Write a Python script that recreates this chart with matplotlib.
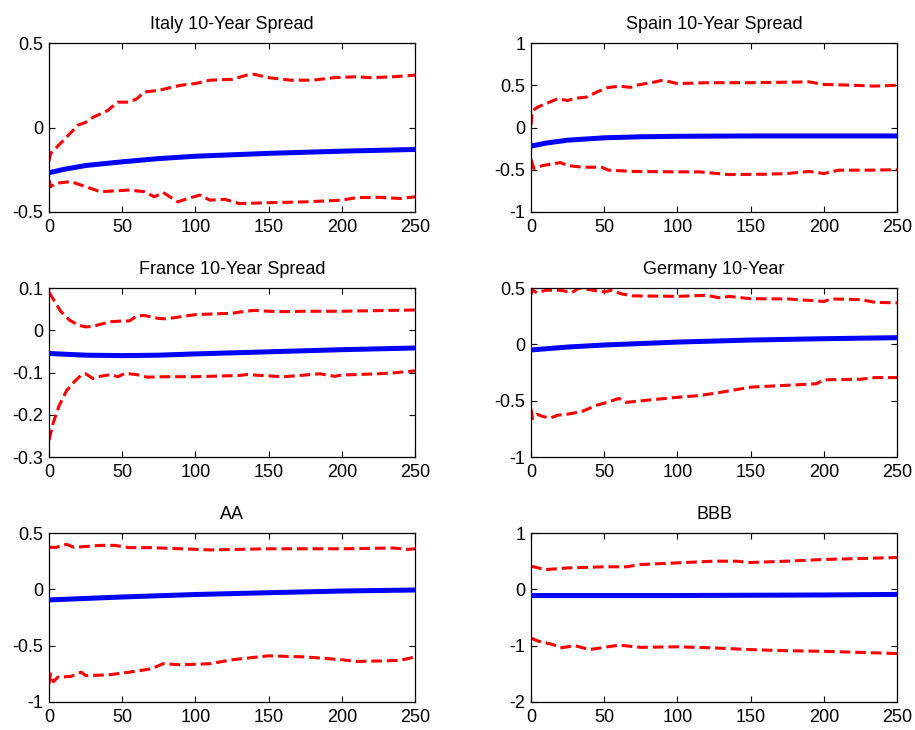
import matplotlib
matplotlib.use("Agg")
import matplotlib.pyplot as plt
import numpy as np

plt.rcParams['font.family'] = ['Liberation Sans', 'DejaVu Sans']

titles = ["Italy 10-Year Spread", "Spain 10-Year Spread", "France 10-Year Spread",
          "Germany 10-Year", "AA", "BBB"]
ylims = [(-0.5, 0.5), (-1, 1), (-0.3, 0.1), (-1, 0.5), (-1, 0.5), (-2, 1)]
yticks = [[-0.5, 0, 0.5], [-1, -0.5, 0, 0.5, 1], [-0.3, -0.2, -0.1, 0, 0.1],
          [-1, -0.5, 0, 0.5], [-1, -0.5, 0, 0.5], [-2, -1, 0, 1]]
ytick_labels = [["-0.5", "0", "0.5"], ["-1", "-0.5", "0", "0.5", "1"],
                ["-0.3", "-0.2", "-0.1", "0", "0.1"], ["-1", "-0.5", "0", "0.5"],
                ["-1", "-0.5", "0", "0.5"], ["-2", "-1", "0", "1"]]
xticks = [0, 50, 100, 150, 200, 250]

# ---- Italy ----
italy_irf_x = [0, 10, 25, 50, 75, 100, 150, 200, 250]
italy_irf_y = [-0.268, -0.248, -0.225, -0.203, -0.184, -0.170, -0.153, -0.140, -0.130]
italy_up_x = [0, 1, 10, 20, 25, 30, 40, 47, 55, 60, 65, 75, 90, 100, 110, 125, 135, 140,
              150, 165, 180, 195, 210, 220, 235, 250]
italy_up_y = [-0.20, -0.154, -0.075, 0.015, 0.03, 0.06, 0.10, 0.15, 0.15, 0.17, 0.21, 0.22,
              0.25, 0.26, 0.28, 0.285, 0.31, 0.315, 0.295, 0.28, 0.28, 0.295, 0.30, 0.295,
              0.30, 0.31]
italy_lo_x = [0, 1, 5, 15, 25, 35, 45, 55, 65, 72, 78, 88, 95, 103, 110, 120, 130, 150,
              175, 200, 210, 225, 240, 250]
italy_lo_y = [-0.31, -0.35, -0.33, -0.32, -0.35, -0.38, -0.375, -0.37, -0.38, -0.41,
              -0.385, -0.44, -0.42, -0.40, -0.43, -0.425, -0.45, -0.445, -0.44, -0.43,
              -0.415, -0.413, -0.42, -0.41]

# ---- Spain ----
spain_irf_x = [0, 10, 25, 50, 75, 100, 150, 200, 250]
spain_irf_y = [-0.22, -0.185, -0.15, -0.122, -0.11, -0.104, -0.10, -0.10, -0.10]
spain_up_x = [0, 1, 5, 10, 18, 25, 30, 38, 45, 52, 60, 68, 72, 85, 90, 100, 120, 150,
              190, 200, 220, 235, 250]
spain_up_y = [0.03, 0.20, 0.245, 0.28, 0.34, 0.32, 0.345, 0.36, 0.42, 0.47, 0.49, 0.475,
              0.50, 0.54, 0.56, 0.52, 0.53, 0.53, 0.54, 0.51, 0.50, 0.49, 0.50]
spain_lo_x = [0, 2, 8, 15, 20, 25, 35, 48, 53, 70, 100, 115, 135, 160, 175, 190, 200,
              210, 230, 250]
spain_lo_y = [-0.38, -0.485, -0.45, -0.43, -0.415, -0.45, -0.47, -0.47, -0.505, -0.52,
              -0.525, -0.525, -0.557, -0.553, -0.545, -0.52, -0.545, -0.505, -0.505, -0.50]

# ---- France ----
france_irf_x = [0, 25, 50, 75, 100, 150, 200, 250]
france_irf_y = [-0.055, -0.059, -0.060, -0.059, -0.056, -0.051, -0.046, -0.042]
france_up_x = [0, 3, 8, 14, 20, 25, 30, 35, 42, 50, 55, 60, 65, 75, 80, 90, 100, 115,
               125, 130, 140, 150, 160, 175, 200, 250]
france_up_y = [0.090, 0.073, 0.045, 0.024, 0.012, 0.008, 0.009, 0.014, 0.020, 0.022,
               0.022, 0.034, 0.035, 0.028, 0.027, 0.032, 0.037, 0.039, 0.040, 0.043,
               0.047, 0.045, 0.044, 0.045, 0.045, 0.048]
france_lo_x = [0, 3, 7, 12, 17, 22, 25, 30, 35, 42, 47, 52, 60, 67, 80, 100, 130, 135,
               160, 175, 185, 195, 200, 225, 235, 250]
france_lo_y = [-0.260, -0.218, -0.178, -0.143, -0.123, -0.106, -0.103, -0.114, -0.109,
               -0.105, -0.110, -0.102, -0.105, -0.111, -0.110, -0.110, -0.107, -0.105,
               -0.110, -0.106, -0.103, -0.109, -0.106, -0.103, -0.101, -0.096]

# ---- Germany ----
germany_irf_x = [0, 25, 50, 100, 150, 200, 250]
germany_irf_y = [-0.050, -0.024, -0.006, 0.020, 0.038, 0.050, 0.059]
germany_up_x = [0, 1, 4, 10, 20, 28, 33, 40, 50, 55, 62, 70, 100, 120, 130, 135, 150,
                175, 190, 200, 205, 225, 235, 250]
germany_up_y = [0.44, 0.485, 0.456, 0.48, 0.48, 0.46, 0.50, 0.485, 0.465, 0.48, 0.447,
                0.43, 0.426, 0.435, 0.41, 0.426, 0.405, 0.403, 0.39, 0.38, 0.403, 0.397,
                0.373, 0.368]
germany_lo_x = [0, 1, 4, 8, 13, 18, 25, 35, 45, 52, 60, 65, 80, 100, 115, 130, 150, 165,
                195, 200, 225, 235, 250]
germany_lo_y = [-0.575, -0.66, -0.62, -0.64, -0.655, -0.63, -0.62, -0.595, -0.54, -0.515,
                -0.48, -0.515, -0.495, -0.47, -0.455, -0.425, -0.38, -0.37, -0.35, -0.315,
                -0.31, -0.295, -0.295]

# ---- AA ----
aa_irf_x = [0, 50, 100, 150, 200, 250]
aa_irf_y = [-0.094, -0.068, -0.046, -0.030, -0.015, -0.006]
aa_up_x = [0, 5, 12, 17, 25, 35, 45, 55, 70, 90, 110, 150, 200, 235, 245, 250]
aa_up_y = [0.373, 0.373, 0.40, 0.373, 0.38, 0.39, 0.39, 0.37, 0.37, 0.36, 0.35, 0.36,
           0.36, 0.367, 0.355, 0.36]
aa_lo_x = [0, 1, 3, 6, 15, 22, 25, 40, 55, 70, 78, 90, 110, 125, 150, 175, 200, 210,
           230, 240, 250]
aa_lo_y = [-0.84, -0.75, -0.82, -0.78, -0.773, -0.735, -0.765, -0.76, -0.735, -0.705,
           -0.66, -0.67, -0.66, -0.625, -0.59, -0.60, -0.625, -0.64, -0.635, -0.63, -0.60]

# ---- BBB ----
bbb_irf_x = [0, 100, 200, 250]
bbb_irf_y = [-0.11, -0.11, -0.10, -0.09]
bbb_up_x = [0, 5, 10, 25, 50, 65, 75, 100, 125, 140, 150, 175, 200, 225, 250]
bbb_up_y = [0.41, 0.38, 0.35, 0.38, 0.40, 0.40, 0.44, 0.47, 0.50, 0.50, 0.476, 0.50,
            0.53, 0.547, 0.565]
bbb_lo_x = [0, 5, 15, 20, 30, 40, 50, 60, 75, 100, 125, 150, 175, 200, 225, 250]
bbb_lo_y = [-0.865, -0.92, -0.98, -1.04, -1.00, -1.07, -1.03, -0.99, -1.03, -1.02,
            -1.04, -1.07, -1.09, -1.10, -1.12, -1.14]

irf_x = [italy_irf_x, spain_irf_x, france_irf_x, germany_irf_x, aa_irf_x, bbb_irf_x]
irf_y = [italy_irf_y, spain_irf_y, france_irf_y, germany_irf_y, aa_irf_y, bbb_irf_y]
up_x = [italy_up_x, spain_up_x, france_up_x, germany_up_x, aa_up_x, bbb_up_x]
up_y = [italy_up_y, spain_up_y, france_up_y, germany_up_y, aa_up_y, bbb_up_y]
lo_x = [italy_lo_x, spain_lo_x, france_lo_x, germany_lo_x, aa_lo_x, bbb_lo_x]
lo_y = [italy_lo_y, spain_lo_y, france_lo_y, germany_lo_y, aa_lo_y, bbb_lo_y]

fig = plt.figure(figsize=(9.15, 7.3), dpi=100)
W, H = 915.0, 730.0
lefts = [49, 531]
tops = [43, 288, 533]
aw, ah = 366, 169

for i in range(6):
    r, c = divmod(i, 2)
    ax = fig.add_axes([lefts[c] / W, 1 - (tops[r] + ah) / H, aw / W, ah / H])
    ax.plot(irf_x[i], irf_y[i], color=(0, 0, 1), lw=3.6, solid_capstyle='butt', zorder=3)
    ax.plot(up_x[i], up_y[i], color=(1, 0, 0), lw=2.2, linestyle=(0, (3.5, 1.6)), zorder=2)
    ax.plot(lo_x[i], lo_y[i], color=(1, 0, 0), lw=2.2, linestyle=(0, (3.5, 1.6)), zorder=2)
    ax.set_xlim(0, 250)
    ax.set_ylim(*ylims[i])
    ax.set_xticks(xticks)
    ax.set_xticklabels([str(t) for t in xticks])
    ax.set_yticks(yticks[i])
    ax.set_yticklabels(ytick_labels[i])
    ax.tick_params(direction='in', length=4.2, width=0.8, top=True, right=True,
                   labelsize=13, colors='black')
    ax.tick_params(axis='x', pad=5)
    ax.tick_params(axis='y', pad=4)
    for s in ax.spines.values():
        s.set_linewidth(0.9)
    ax.set_title(titles[i], fontsize=13, pad=10)

fig.savefig("out.png", dpi=100)
